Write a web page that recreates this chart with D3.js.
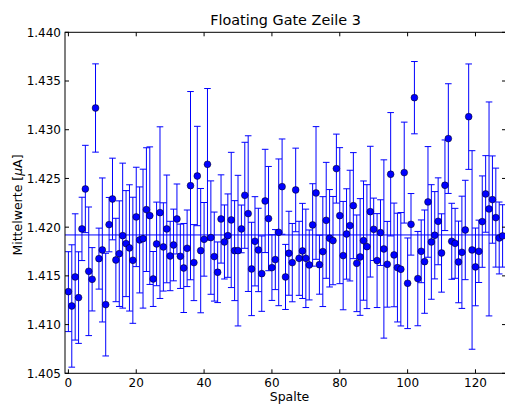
<!DOCTYPE html>
<html><head><meta charset="utf-8">
<script src="https://cdn.jsdelivr.net/npm/d3@7"></script>
<style>body{margin:0;background:#fff}svg{display:block;font-family:"DejaVu Sans",sans-serif}</style>
</head><body><svg id="c" width="505" height="405"></svg>
<script>
// Mittelwerte pro Spalte (index = Spalte 0..128)
const values = [
1.41338,1.41191,1.41489,1.41277,1.41982,1.42392,1.41547,1.41465,1.43223,1.41677,
1.41766,1.41205,1.42026,1.42289,1.41663,1.41728,1.41913,1.41831,1.41787,1.41660,
1.42105,1.41869,1.41882,1.42180,1.42118,1.41468,1.41828,1.42149,1.41797,1.41982,
1.41704,1.41817,1.42084,1.41701,1.41581,1.41783,1.42426,1.41636,1.42525,1.41759,
1.41875,1.42645,1.41893,1.41698,1.41537,1.42084,1.41848,1.41913,1.42074,1.41759,
1.41759,1.41982,1.42327,1.42139,1.41571,1.41855,1.41766,1.41523,1.42269,1.42088,
1.41585,1.41667,1.41947,1.42416,1.41489,1.41732,1.41636,1.42382,1.41680,1.41756,
1.41680,1.41612,1.42023,1.42351,1.41615,1.41749,1.42070,1.41886,1.41862,1.42601,
1.42118,1.41708,1.41930,1.42016,1.42221,1.41629,1.41694,1.41862,1.41800,1.42159,
1.41978,1.41657,1.41944,1.41776,1.41619,1.42543,1.41715,1.41585,1.41568,1.42560,
1.41424,1.42029,1.43329,1.41472,1.41752,1.41646,1.42259,1.41848,1.41917,1.42060,
1.41735,1.42430,1.42909,1.41855,1.41834,1.41643,1.41742,1.41971,1.43134,1.41766,
1.41592,1.41752,1.42057,1.42341,1.42187,1.42283,1.42098,1.41889,1.41910
];
// Fehler (halbe Balkenlänge)
const errors = [
0.00410,0.00628,0.00648,0.00470,0.00325,0.00448,0.00660,0.00325,0.00453,0.00313,
0.00739,0.00527,0.00279,0.00419,0.00428,0.00542,0.00744,0.00544,0.00648,0.00647,
0.00510,0.00544,0.00713,0.00635,0.00706,0.00282,0.00429,0.00881,0.00453,0.00553,
0.00356,0.00368,0.00359,0.00330,0.00457,0.00393,0.00966,0.00390,0.00510,0.00638,
0.00378,0.00778,0.00582,0.00457,0.00311,0.00453,0.00380,0.00428,0.00694,0.00513,
0.00773,0.00245,0.00544,0.00799,0.00479,0.00458,0.00428,0.00387,0.00530,0.00535,
0.00337,0.00308,0.00753,0.00489,0.00334,0.00431,0.00402,0.00429,0.00380,0.00488,
0.00505,0.00359,0.00423,0.00681,0.00303,0.00564,0.00595,0.00500,0.00453,0.00354,
0.00698,0.00556,0.00464,0.00568,0.00544,0.00496,0.00599,0.00612,0.00636,0.00671,
0.00320,0.00482,0.00337,0.00915,0.00440,0.00633,0.00532,0.00558,0.00582,0.00518,
0.00465,0.00316,0.00371,0.00484,0.00322,0.00530,0.00568,0.00588,0.00448,0.00446,
0.00402,0.00465,0.00563,0.00390,0.00359,0.00419,0.00576,0.00510,0.00541,0.01019,
0.00399,0.00320,0.00469,0.00393,0.01098,0.00448,0.00508,0.00369,0.00320
];
const meanValue = 1.4192;
const xTicks = [0,20,40,60,80,100,120];
const yTicks = [1.405,1.410,1.415,1.420,1.425,1.430,1.435,1.440];
const xDomain = [-1,129];
const yDomain = [1.405,1.440];

const svg = d3.select("#c");
const L=65, R=506, T=32.3, B=373.3;
const x = d3.scaleLinear().domain(xDomain).range([L,R]);
const y = d3.scaleLinear().domain(yDomain).range([B,T]);
const blue = "#0000ff";

svg.append("defs").append("clipPath").attr("id","clip")
  .append("rect").attr("x",L).attr("y",T).attr("width",R-L).attr("height",B-T);

const g = svg.append("g").attr("clip-path","url(#clip)");
const data = values.map((v,i)=>({i, v, e: errors[i]}));

// mean line
g.append("line").attr("x1",L).attr("x2",R)
  .attr("y1",y(meanValue)).attr("y2",y(meanValue))
  .attr("stroke",blue).attr("stroke-width",1);

// error bars
const eb = g.append("g").attr("stroke",blue).attr("stroke-width",1);
data.forEach(d=>{
  const cx = x(d.i), y1 = y(d.v+d.e), y2 = y(d.v-d.e);
  eb.append("line").attr("x1",cx).attr("x2",cx).attr("y1",y1).attr("y2",y2);
  eb.append("line").attr("x1",cx-3.3).attr("x2",cx+3.3).attr("y1",y1).attr("y2",y1);
  eb.append("line").attr("x1",cx-3.3).attr("x2",cx+3.3).attr("y1",y2).attr("y2",y2);
});

// points
g.append("g").selectAll("circle").data(data).join("circle")
  .attr("cx",d=>x(d.i)).attr("cy",d=>y(d.v)).attr("r",3.4)
  .attr("fill",blue).attr("stroke","#000").attr("stroke-width",0.5);

// frame
svg.append("rect").attr("x",L).attr("y",T).attr("width",R-L).attr("height",B-T)
  .attr("fill","none").attr("stroke","#000").attr("stroke-width",1);

// ticks
const tk = svg.append("g").attr("stroke","#000").attr("stroke-width",1);
xTicks.forEach(t=>{
  const px = x(t);
  tk.append("line").attr("x1",px).attr("x2",px).attr("y1",B).attr("y2",B-4);
  tk.append("line").attr("x1",px).attr("x2",px).attr("y1",T).attr("y2",T+4);
});
yTicks.forEach(t=>{
  const py = y(t);
  tk.append("line").attr("x1",L).attr("x2",L+4).attr("y1",py).attr("y2",py);
  tk.append("line").attr("x1",R).attr("x2",R-4).attr("y1",py).attr("y2",py);
});

// tick labels
svg.append("g").selectAll("text").data(xTicks).join("text")
  .attr("x",d=>x(d)).attr("y",387).attr("text-anchor","middle")
  .attr("font-size",12).attr("fill","#000").text(d=>d);
svg.append("g").selectAll("text").data(yTicks).join("text")
  .attr("x",61).attr("y",d=>y(d)+4.4).attr("text-anchor","end")
  .attr("font-size",12).attr("fill","#000").text(d=>d3.format(".3f")(d));

// labels
svg.append("text").attr("x",(L+R)/2).attr("y",25).attr("text-anchor","middle")
  .attr("font-size",14.4).attr("fill","#000").text("Floating Gate Zeile 3");
svg.append("text").attr("x",(L+R)/2+4).attr("y",400.5).attr("text-anchor","middle")
  .attr("font-size",12.5).attr("fill","#000").text("Spalte");
const yl = svg.append("text").attr("transform","translate(22,205) rotate(-90)")
  .attr("text-anchor","middle").attr("font-size",12.5).attr("fill","#000");
yl.append("tspan").text("Mittelwerte [");
yl.append("tspan").attr("font-style","italic").text("μ");
yl.append("tspan").text("A]");
</script></body></html>
